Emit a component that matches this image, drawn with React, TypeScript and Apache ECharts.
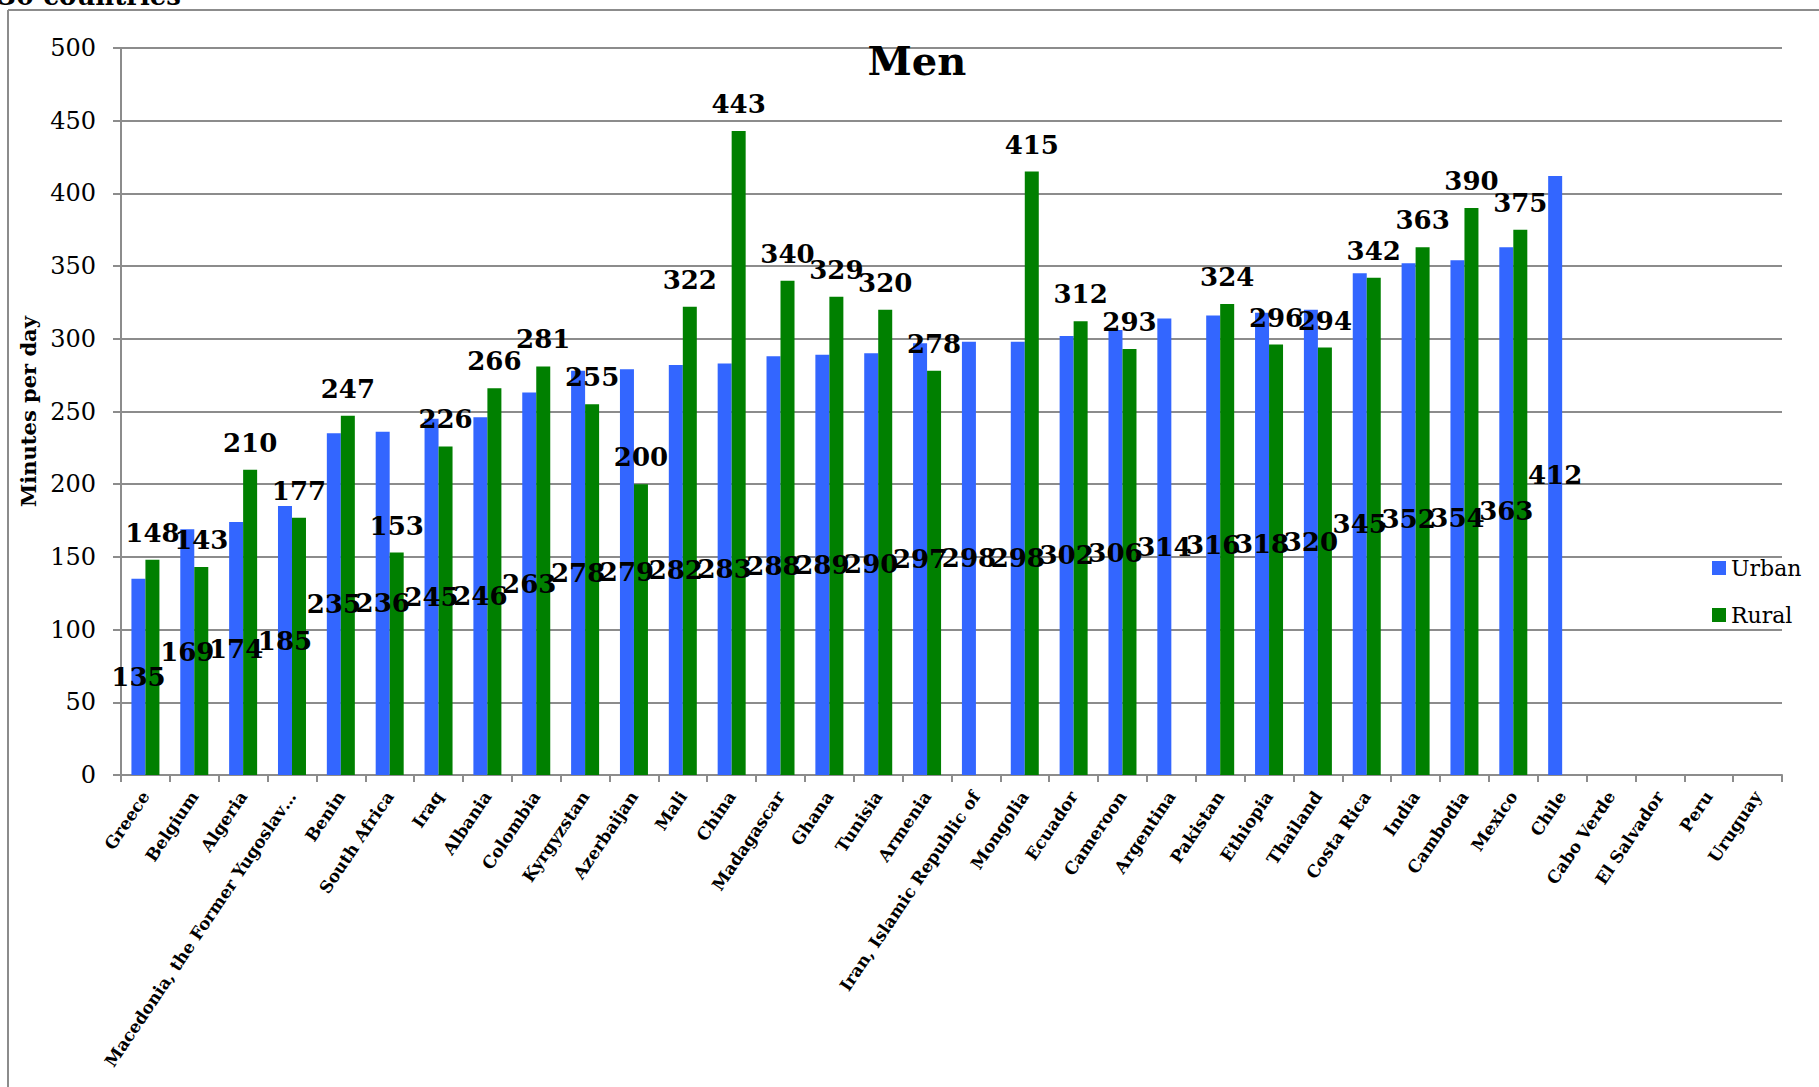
import React, { useEffect, useRef } from "react";
import * as echarts from "echarts";

const categories = [
  "Greece", "Belgium", "Algeria", "Macedonia, the Former Yugoslav…", "Benin",
  "South Africa", "Iraq", "Albania", "Colombia", "Kyrgyzstan", "Azerbaijan",
  "Mali", "China", "Madagascar", "Ghana", "Tunisia", "Armenia",
  "Iran, Islamic Republic of", "Mongolia", "Ecuador", "Cameroon", "Argentina",
  "Pakistan", "Ethiopia", "Thailand", "Costa Rica", "India", "Cambodia",
  "Mexico", "Chile", "Cabo Verde", "El Salvador", "Peru", "Uruguay",
];

const urban = [
  135, 169, 174, 185, 235, 236, 245, 246, 263, 278, 279, 282, 283, 288, 289,
  290, 297, 298, 298, 302, 306, 314, 316, 318, 320, 345, 352, 354, 363, 412,
  null, null, null, null,
];

const rural = [
  148, 143, 210, 177, 247, 153, 226, 266, 281, 255, 200, 322, 443, 340, 329,
  320, 278, null, 415, 312, 293, null, 324, 296, 294, 342, 363, 390, 375, null,
  null, null, null, null,
];

const yMin = 0;
const yMax = 500;
const yStep = 50;

const FONT = "DejaVu Serif";
const GRAY = "#8c8c8c";

export default function App() {
  const ref = useRef<HTMLDivElement>(null);

  useEffect(() => {
    if (!ref.current) return;
    const chart = echarts.init(ref.current, null, { renderer: "svg" });
    const labelStyle = {
      show: true,
      color: "#000",
      fontFamily: FONT,
      fontWeight: "bold",
      fontSize: 26,
    };
    chart.setOption({
      animation: false,
      backgroundColor: "#fff",
      textStyle: { fontFamily: FONT },
      grid: {
        left: 121,
        right: 37,
        top: 48,
        bottom: 312,
        containLabel: false,
        outerBoundsMode: "none",
      },
      legend: {
        orient: "vertical",
        left: 1707,
        top: 551,
        itemWidth: 14,
        itemHeight: 14,
        itemGap: 23,
        icon: "rect",
        textStyle: {
          fontFamily: FONT,
          fontSize: 22,
          color: "#000",
          lineHeight: 24,
          padding: [0, 0, 0, 0],
        },
        data: ["Urban", "Rural"],
      },
      xAxis: {
        type: "category",
        data: categories,
        axisLine: { show: true, lineStyle: { color: GRAY, width: 2 } },
        axisTick: { show: true, length: 7, lineStyle: { color: GRAY, width: 2 } },
        axisLabel: {
          interval: 0,
          rotate: 56,
          margin: 18,
          fontFamily: FONT,
          fontWeight: "bold",
          fontSize: 17,
          color: "#000",
        },
      },
      yAxis: {
        type: "value",
        min: yMin,
        max: yMax,
        interval: yStep,
        name: "Minutes per day",
        nameLocation: "middle",
        nameRotate: 90,
        nameGap: 82,
        nameTextStyle: {
          fontFamily: FONT,
          fontWeight: "bold",
          fontSize: 21,
          color: "#000",
        },
        axisLine: { show: true, lineStyle: { color: GRAY, width: 2 } },
        axisTick: { show: true, length: 8, lineStyle: { color: GRAY, width: 2 } },
        axisLabel: {
          margin: 25,
          fontFamily: FONT,
          fontSize: 24,
          color: "#000",
        },
        splitLine: { show: true, lineStyle: { color: GRAY, width: 2 } },
      },
      series: [
        {
          name: "Urban",
          type: "bar",
          data: urban,
          barWidth: 14,
          barGap: "0%",
          itemStyle: { color: "#3366FF" },
          label: { ...labelStyle, position: "inside" },
        },
        {
          name: "Rural",
          type: "bar",
          data: rural,
          barWidth: 14,
          barGap: "0%",
          itemStyle: { color: "#008000" },
          label: { ...labelStyle, position: "top", distance: 14 },
        },
      ],
      graphic: [
        {
          type: "line",
          shape: { x1: 8, y1: 10, x2: 1819, y2: 10 },
          style: { stroke: GRAY, lineWidth: 2 },
          z: 10,
        },
        {
          type: "line",
          shape: { x1: 8, y1: 10, x2: 8, y2: 1087 },
          style: { stroke: GRAY, lineWidth: 2 },
          z: 10,
        },
        {
          type: "text",
          x: -2,
          y: 9,
          style: {
            text: "30 countries",
            fontFamily: FONT,
            fontWeight: "bold",
            fontSize: 26,
            fill: "#000",
            textVerticalAlign: "bottom",
          },
          z: 10,
        },
        {
          type: "text",
          x: 917,
          y: 60,
          style: {
            text: "Men",
            fontFamily: FONT,
            fontWeight: "bold",
            fontSize: 40,
            fill: "#000",
            textAlign: "center",
            textVerticalAlign: "middle",
          },
          z: 10,
        },
      ],
    });
    return () => chart.dispose();
  }, []);

  return (
    <div
      ref={ref}
      style={{
        position: "fixed",
        left: 0,
        top: 0,
        width: 1819,
        height: 1087,
        background: "#fff",
      }}
    />
  );
}
